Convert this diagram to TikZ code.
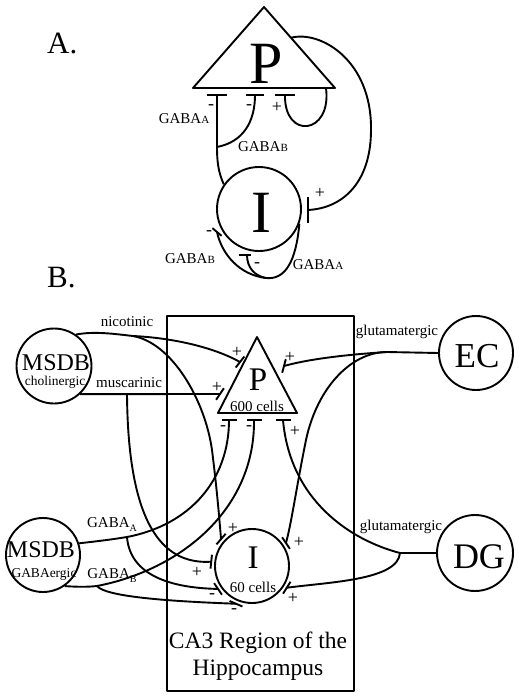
\documentclass[tikz,border=0pt]{standalone}
\usepackage{fontspec}
\setmainfont{Liberation Serif}
\usetikzlibrary{calc}
\newcommand\fs[1]{\fontsize{#1}{#1}\selectfont}
\newcommand\synbar[3]{\draw[bar] ($#1+(#2:#3)$) -- ($#1+(#2:-#3)$);}
\begin{document}
\begin{tikzpicture}[x=1pt,y=-1pt,line join=round,
  conn/.style={line width=1.9pt},
  bar/.style={line width=1.9pt},
  outl/.style={line width=1.9pt},
  cell/.style={circle,draw,outl,inner sep=0pt},
  txt/.style={anchor=base,inner sep=0pt},
  lbl/.style={txt,font=\fs{15}},
  sgn/.style={inner sep=0pt,font=\fs{18}}]
\useasboundingbox (0,0) rectangle (519,699);

% ---------------- Panel A ----------------
\node[txt,anchor=base west,font=\fs{31}] (labA) at (47,53) {A.};
\coordinate (PAtop) at (264,7);
\coordinate (PAl) at (193,88);
\coordinate (PAr) at (335,88);
\draw[outl] (PAtop) -- (PAl) -- (PAr) -- cycle;
\node[txt,font=\fs{60}] (PA) at (266,83) {P};
\node[cell,minimum size=84pt] (IA) at (259,209) {};
\node[txt,font=\fs{60}] (IAt) at (261,232) {I};

\coordinate (bA1) at (217,95);
\coordinate (bA2) at (255,95);
\coordinate (bA3) at (285,95);
\synbar{(bA1)}{0}{10pt}
\synbar{(bA2)}{0}{9pt}
\synbar{(bA3)}{0}{10pt}

\coordinate (aJ) at (217,147);
\draw[conn] (IA.145) .. controls (218,172) and (217,160) .. (aJ) -- (bA1);
\draw[conn] (aJ) .. controls (243,142) and (255,122) .. (bA2);
\coordinate (PAloop) at (326,88);
\draw[conn] (PAloop) .. controls (332,135) and (284,140) .. (bA3);
\coordinate (PArs) at ($(PAtop)!0.38!(PAr)$);
\coordinate (bAI) at (308,210);
\draw[conn] (PArs) .. controls (320,30) and (372,60) .. (371,130) .. controls (371,180) and (345,208) .. (bAI);
\synbar{(bAI)}{90}{13pt}

\coordinate (jA) at (266,278);
\coordinate (aLL) at (217,232);
\coordinate (bAin) at (247,255);
\draw[conn] (IA.-20) .. controls (296,262) and (285,280) .. (jA) .. controls (240,275) and (222,255) .. (aLL);
\synbar{(aLL)}{-40}{6pt}
\draw[conn] (jA) .. controls (255,276) and (247,268) .. (bAin);
\draw[bar] ($(bAin)+(-8,0)$) -- ($(bAin)+(4,0)$);

\node[lbl] (la1) at (184,123) {GABA{\fs{11}A}};
\node[lbl] (la2) at (263,151) {GABA{\fs{11}B}};
\node[lbl] (la3) at (190,263) {GABA{\fs{11}B}};
\node[lbl] (la4) at (318,269) {GABA{\fs{11}A}};

\node[sgn] (sA1) at (211,107) {-};
\node[sgn] (sA2) at (249,107) {-};
\node[sgn] (sA3) at (277,107) {+};
\node[sgn] (sA4) at (320,193) {+};
\node[sgn] (sA5) at (209,233) {-};
\node[sgn] (sA6) at (257,265) {-};

% ---------------- Panel B ----------------
\node[txt,anchor=base west,font=\fs{31}] (labB) at (47,287) {B.};
\node[draw,outl,minimum width=187pt,minimum height=375pt,inner sep=0pt] (CA3box) at (260.5,503.5) {};
\node[txt,font=\fs{23.5}] (ca3a) at (258,648) {CA3 Region of the};
\node[txt,font=\fs{23.5}] (ca3b) at (258,675) {Hippocampus};

\coordinate (PBtop) at (257,337);
\coordinate (PBl) at (218,413);
\coordinate (PBr) at (297,413);
\draw[outl] (PBtop) -- (PBl) -- (PBr) -- cycle;
\node[txt,font=\fs{33}] (PB) at (258,390) {P};
\node[txt,font=\fs{15}] (PBc) at (257,411) {600 cells};

\node[cell,minimum size=74pt] (IB) at (252,566) {};
\node[txt,font=\fs{33}] (IBt) at (253,568) {I};
\node[txt,font=\fs{15}] (IBc) at (253,592) {60 cells};

\node[cell,minimum size=75pt] (MSc) at (54,366) {};
\node[txt,font=\fs{24}] (MScT) at (56,370) {MSDB};
\node[txt,font=\fs{13.5}] (MScS) at (55,385) {cholinergic};
\node[cell,minimum size=74pt] (MSg) at (43,555) {};
\node[txt,font=\fs{24}] (MSgT) at (41,557) {MSDB};
\node[txt,font=\fs{13.5}] (MSgS) at (44,577) {GABAergic};
\node[cell,minimum size=74pt] (EC) at (476,353) {};
\node[txt,font=\fs{35}] (ECT) at (477,367) {EC};
\node[cell,minimum size=76pt] (DG) at (475,553) {};
\node[txt,font=\fs{36}] (DGT) at (479,568) {DG};

% synapse bars on P
\coordinate (bB1) at (229,420);
\coordinate (bB2) at (254,420);
\coordinate (bB3) at (283,420);
\synbar{(bB1)}{0}{7.5pt}
\synbar{(bB2)}{0}{7.5pt}
\synbar{(bB3)}{0}{7.5pt}
\coordinate (nicP) at (240,362);
\coordinate (musP) at (220,394);
\coordinate (ecP) at (284,366);
\synbar{(nicP)}{52}{7pt}
\synbar{(musP)}{56}{7pt}
\synbar{(ecP)}{75}{7pt}

% synapse bars on I
\foreach \n/\a/\b in {iTL/139/49, iL/174/84, iLL/214/124, iB/247/157, iTR/34/124, iLR/-32/58} {
  \coordinate (\n) at ($(IB)+(\a:41pt)$);
  \synbar{(\n)}{\b}{7pt}
}

% connectors
\coordinate (nj) at (133,336);
\draw[conn] (MSc.55) .. controls (95,331) and (115,334) .. (nj) .. controls (175,338) and (215,348) .. (nicP);
\draw[conn] (nj) .. controls (172,343) and (205,400) .. (212,450) .. controls (217,490) and (219,515) .. (iTL);

\coordinate (mj) at (127,394);
\draw[conn] (MSc.-47) -- (musP);
\draw[conn] (mj) .. controls (128,520) and (160,565) .. (iL);

\coordinate (ej) at (387,352);
\draw[conn] (EC.west) -- (ej) .. controls (340,355) and (305,360) .. (ecP);
\draw[conn] (ej) .. controls (350,352) and (315,390) .. (305,445) .. controls (296,490) and (292,520) .. (iTR);

\coordinate (dj) at (400,553);
\draw[conn] (DG.west) -- (dj) .. controls (350,540) and (290,500) .. (bB3);
\draw[conn] (dj) .. controls (398,580) and (330,582) .. (iLR);

\coordinate (gA) at (127,537);
\draw[conn] (MSg.18) .. controls (100,541) and (115,539) .. (gA) .. controls (190,525) and (229,480) .. (bB1);
\draw[conn] (gA) .. controls (130,575) and (170,588) .. (iLL);

\coordinate (gB) at (97,586);
\draw[conn] (MSg.-55) .. controls (78,587) and (88,587) .. (gB) .. controls (180,570) and (255,510) .. (bB2);
\draw[conn] (gB) .. controls (105,596) and (160,601) .. (iB);

% labels
\node[lbl] (lnic) at (127,326) {nicotinic};
\node[lbl] (lmus) at (129,387) {muscarinic};
\node[lbl] (lglu1) at (397,335) {glutamatergic};
\node[lbl] (lglu2) at (401,530) {glutamatergic};
\node[lbl] (lgA) at (112,527) {GABA\raisebox{-4pt}{\fs{10}A}};
\node[lbl] (lgB) at (112,578) {GABA\raisebox{-4pt}{\fs{10}B}};

% signs
\node[sgn] (sB1) at (237,352) {+};
\node[sgn] (sB2) at (217,387) {+};
\node[sgn] (sB3) at (290,357) {+};
\node[sgn] (sB4) at (223,428) {-};
\node[sgn] (sB5) at (249,428) {-};
\node[sgn] (sB6) at (295,431) {+};
\node[sgn] (sB7) at (233,528) {+};
\node[sgn] (sB8) at (197,572) {+};
\node[sgn] (sB9) at (212,596) {-};
\node[sgn] (sB10) at (234,611) {-};
\node[sgn] (sB11) at (299,542) {+};
\node[sgn] (sB12) at (293,598) {+};
\end{tikzpicture}
\end{document}
